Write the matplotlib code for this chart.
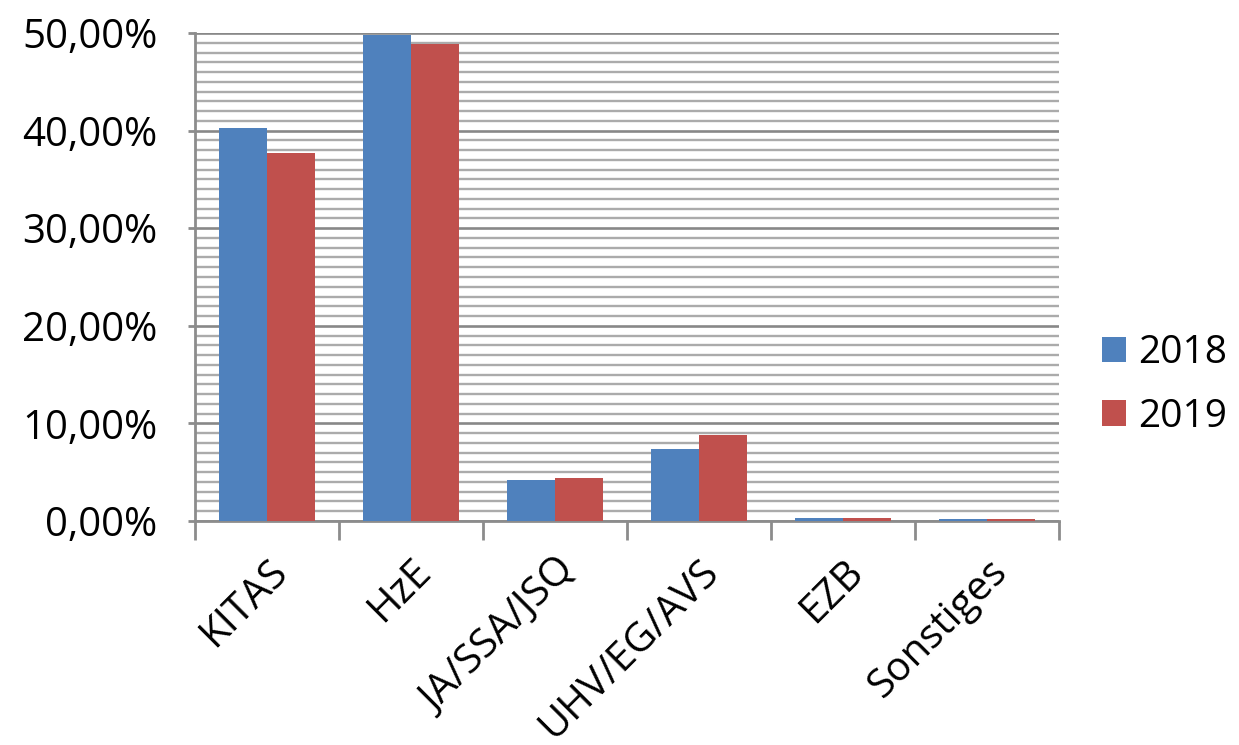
import numpy as np
import matplotlib
matplotlib.use("Agg")
import matplotlib.pyplot as plt
from matplotlib.ticker import FuncFormatter, MultipleLocator

plt.rcParams['font.family'] = ['Open Sans', 'DejaVu Sans']

categories = ["KITAS", "HzE", "JA/SSA/JSQ", "UHV/EG/AVS", "EZB", "Sonstiges"]
years = ["2018", "2019"]
share_2018 = [0.403, 0.498, 0.042, 0.074, 0.0035, 0.002]
share_2019 = [0.377, 0.489, 0.044, 0.088, 0.0035, 0.002]

BLUE = "#4F81BD"
RED = "#C0504D"

fig = plt.figure(figsize=(12.39, 7.45), dpi=100)
ax = fig.add_axes([195/1239, 1 - 521/745, (1059 - 195)/1239, (521 - 33)/745])

x = np.arange(len(categories))
w = 1/3
ax.bar(x - w/2, share_2018, w, color=BLUE, label=years[0], zorder=5)
ax.bar(x + w/2, share_2019, w, color=RED, label=years[1], zorder=5)

ax.set_xlim(-0.5, len(categories) - 0.5)
ax.set_ylim(0, 0.5)

# gridlines: 1% minor, 10% major
ax.yaxis.set_major_locator(MultipleLocator(0.10))
ax.yaxis.set_minor_locator(MultipleLocator(0.01))
ax.grid(which='minor', axis='y', color='#ababab', linewidth=1.7, zorder=0)
ax.grid(which='major', axis='y', color='#888888', linewidth=1.9, zorder=1)
ax.yaxis.set_major_formatter(FuncFormatter(lambda v, p: ("%.2f%%" % (v*100)).replace('.', ',')))

# category separators as tick marks on x
ax.set_xticks(np.arange(-0.5, len(categories)), minor=False)
ax.set_xticklabels([])
ax.set_xticks(x, minor=True)
ax.set_xticklabels(categories, minor=True, rotation=45, ha='right',
                   rotation_mode='anchor', fontsize=29)
ax.tick_params(axis='x', which='major', length=14, width=2, color='#8c8c8c')
ax.tick_params(axis='x', which='minor', length=0, pad=22)
ax.tick_params(axis='y', which='major', length=5, width=2, color='#8c8c8c',
               labelsize=29, pad=22)
ax.tick_params(axis='y', which='minor', length=0)

for s in ['top', 'right']:
    ax.spines[s].set_visible(False)
for s in ['left', 'bottom']:
    ax.spines[s].set_color('#8c8c8c')
    ax.spines[s].set_linewidth(2)
ax.spines['bottom'].set_zorder(4)

fig.legend(loc='center left', bbox_to_anchor=(1102/1239, 1 - 385/745), frameon=False,
           fontsize=28, handlelength=0.62, handleheight=0.62, borderpad=0,
           borderaxespad=0, handletextpad=0.3, labelspacing=0.65)

fig.savefig("out.png", dpi=100)
